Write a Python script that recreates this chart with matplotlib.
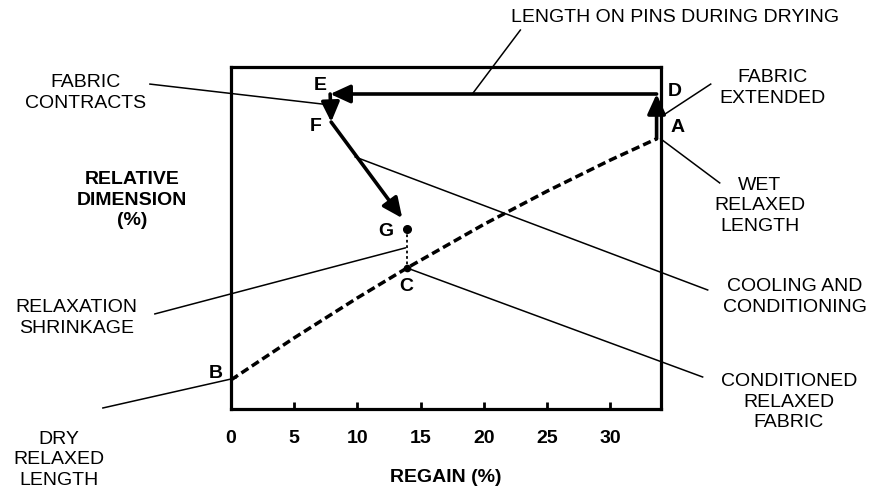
import matplotlib
matplotlib.use('Agg')
import matplotlib.pyplot as plt
from matplotlib.patches import FancyArrowPatch

plt.rcParams['font.family'] = ['Liberation Sans', 'DejaVu Sans']

# dimension vs regain curve (wet relaxed -> dry relaxed)
regain = [0, 5, 10, 13.9, 20, 25, 30, 33.65]
dimension = [8.5, 20.8, 32.5, 41.2, 54.0, 63.7, 72.8, 79.0]

# key states of the fabric
pt_A = (33.65, 79.0)   # wet relaxed
pt_D = (33.65, 92.1)   # extended on pins
pt_E = (7.84, 92.1)    # dried on pins
pt_F = (7.92, 83.9)    # contracted after release
pt_G = (13.94, 52.6)   # after cooling and conditioning
pt_C = (13.94, 41.2)   # conditioned relaxed
pt_B = (0.0, 8.5)      # dry relaxed
fg_tip = (13.54, 55.8)

xticks = [0, 5, 10, 15, 20, 25, 30]

fig = plt.figure(figsize=(8.81, 4.90), dpi=100)
ax = fig.add_axes([0.2622, 0.1653, 0.4881, 0.698])
ax.set_xlim(0, 34)
ax.set_ylim(0, 100)

for s in ax.spines.values():
    s.set_linewidth(2.3)
ax.set_yticks([])
ax.set_xticks(xticks)
ax.tick_params(axis='x', direction='in', length=5, width=2, pad=15,
               labelsize=14)
for lab in ax.get_xticklabels():
    lab.set_fontweight('bold')
ax.set_xlabel('REGAIN (%)', fontsize=14, fontweight='bold', labelpad=16)

# dashed relaxed-length curve
ax.plot(regain, dimension, color='black', lw=2.5, dashes=(2.4, 1.2),
        solid_capstyle='butt', clip_on=False)

# relaxation shrinkage G -> C
ax.plot([pt_G[0], pt_C[0]], [pt_G[1], pt_C[1]], color='black', lw=1.3,
        linestyle=(0, (1.5, 1.5)))
ax.plot(*pt_G, 'o', color='black', ms=5.5)
ax.plot(*pt_C, 'o', color='black', ms=4.5)


def arrow(p0, p1):
    a = FancyArrowPatch(p0, p1, arrowstyle='-|>,head_length=12,head_width=5.5',
                        mutation_scale=1, lw=2.6, color='black',
                        shrinkA=0, shrinkB=0, clip_on=False)
    ax.add_patch(a)


arrow(pt_A, pt_D)
arrow(pt_D, pt_E)
arrow(pt_E, pt_F)
arrow(pt_F, fg_tip)

# point letters
letters = {'A': (35.3, 82.2), 'B': (-1.2, 10.5), 'C': (13.86, 35.7),
           'D': (35.08, 92.7), 'E': (7.05, 94.7), 'F': (6.73, 82.5),
           'G': (12.27, 51.8)}
for name, (x, y) in letters.items():
    ax.text(x, y, name, fontsize=14, fontweight='bold', ha='center',
            va='center', clip_on=False)

# leader lines and captions
leaders = [
    ((22.88, 110.8), (19.08, 92.1)),
    ((-6.41, 95.0), (7.84, 88.9)),
    ((9.82, 73.7), (37.69, 34.8)),
    ((-6.02, 27.8), (13.78, 47.1)),
    (pt_C, (37.29, 9.36)),
    ((-10.13, 0.3), (0.4, 9.1)),
    ((33.97, 79.0), (38.64, 66.1)),
    ((33.97, 85.4), (37.93, 95.0)),
]
for (x0, y0), (x1, y1) in leaders:
    ax.plot([x0, x1], [y0, y1], color='black', lw=1.1, clip_on=False)

captions = [
    ('LENGTH ON PINS DURING DRYING', (35.15, 114.6)),
    ('FABRIC\nCONTRACTS', (-11.48, 92.4)),
    ('RELAXATION\nSHRINKAGE', (-12.19, 26.6)),
    ('DRY\nRELAXED\nLENGTH', (-13.62, -14.9)),
    ('CONDITIONED\nRELAXED\nFABRIC', (44.1, 2.0)),
    ('COOLING AND\nCONDITIONING', (44.6, 32.8)),
    ('WET\nRELAXED\nLENGTH', (41.8, 59.4)),
    ('FABRIC\nEXTENDED', (42.8, 93.9)),
]
for txt, (x, y) in captions:
    ax.text(x, y, txt, fontsize=14, ha='center', va='center',
            multialignment='center', linespacing=1.28, clip_on=False)

ax.text(-7.84, 61.1, 'RELATIVE\nDIMENSION\n(%)', fontsize=14,
        fontweight='bold', ha='center', va='center', linespacing=1.28,
        clip_on=False)

fig.savefig('out.png', dpi=100)
